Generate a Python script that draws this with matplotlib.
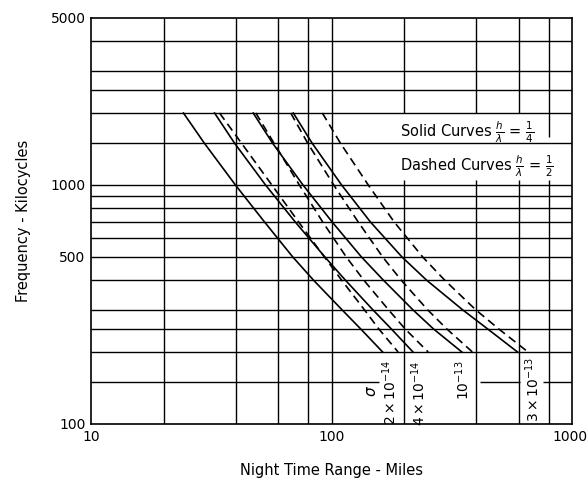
import numpy as np
import matplotlib
matplotlib.use('Agg')
import matplotlib.pyplot as plt
import matplotlib.transforms as mtransforms

### DATA ###
freq = [2000, 1500, 1000, 700, 500, 400, 300, 250, 200]

# solid curves, h/lambda = 1/4 (range in miles at each frequency)
solid_2e14 = [24.2, 29.5, 39.8, 52.6, 68.9, 84, 110.6, 132, 163]
solid_4e14 = [32.6, 39.4, 53.1, 70.6, 93.7, 114, 148.6, 177, 218]
solid_1e13 = [47.2, 56.7, 76, 100.5, 133, 164, 218, 265, 348]
solid_3e13 = [69.3, 82.8, 110, 145, 196, 248, 351, 445, 593]

# dashed curves, h/lambda = 1/2
dashed_2e14 = [34.2, 42.1, 56.4, 72.9, 93.3, 110, 137, 157, 189]
dashed_4e14 = [48.4, 57.5, 73.4, 91.8, 115, 136, 172.6, 202, 252]
dashed_1e13 = [67.6, 79.4, 102, 129, 163, 194.5, 251, 301, 385]
dashed_3e13 = [91.5, 108.6, 142, 182, 239, 295, 398, 495, 656]

x_grid = [20, 40, 60, 80, 100, 200, 400, 600, 800]
y_grid = [150, 200, 250, 300, 400, 500, 600, 700, 800, 900,
          1000, 1500, 2000, 2500, 3000, 4000]

x_ticks = [10, 100, 1000]
y_ticks = [100, 500, 1000, 5000]

sigma_labels = [r'$2\times10^{-14}$', r'$4\times10^{-14}$',
                r'$10^{-13}$', r'$3\times10^{-13}$']
sigma_label_x = [175, 231, 351, 684]
sigma_label_y = [136, 135, 152, 140]

plt.rcParams['font.family'] = ['Liberation Sans Narrow', 'DejaVu Sans']
plt.rcParams['mathtext.fontset'] = 'dejavusans'

fig = plt.figure(figsize=(5.88, 4.8), dpi=100)
ax = fig.add_axes([0.155, 0.1167, 0.818, 0.846])
ax.set_xscale('log')
ax.set_yscale('log')
ax.set_xlim(10, 1000)
ax.set_ylim(100, 5000)

### GRID (hand drawn style, with gaps where the labels sit) ###
gk = dict(color='black', lw=1.0, zorder=1)
for xv in x_grid:
    if xv >= 200:
        ax.vlines(xv, 100, 1050, **gk)
        top_lo = 1580 if xv == 800 else 2000
        ax.vlines(xv, top_lo, 5000, **gk)
    else:
        ax.vlines(xv, 100, 5000, **gk)
for yv in y_grid:
    if yv == 150:
        ax.hlines(yv, 10, 158, **gk)
        ax.hlines(yv, 415, 610, **gk)
        ax.hlines(yv, 760, 1000, **gk)
    else:
        ax.hlines(yv, 10, 1000, **gk)

### CURVES ###
for s in [solid_2e14, solid_4e14, solid_1e13, solid_3e13]:
    ax.plot(s, freq, color='black', lw=1.2, zorder=3)
for d in [dashed_2e14, dashed_4e14, dashed_1e13, dashed_3e13]:
    ax.plot(d, freq, color='black', lw=1.2, dashes=(5, 3), zorder=3)

### TEXT ###
ax.text(193, 1667, r'Solid Curves $\frac{h}{\lambda}$ = $\frac{1}{4}$',
        fontsize=10.5, va='center', ha='left', zorder=4)
ax.text(192, 1202, r'Dashed Curves $\frac{h}{\lambda}$ = $\frac{1}{2}$',
        fontsize=10.5, va='center', ha='left', zorder=4)

ax.text(146, 138, r'$\sigma$', fontsize=11, rotation=90,
        ha='center', va='center', zorder=4)
for lab, lx, ly in zip(sigma_labels, sigma_label_x, sigma_label_y):
    ax.text(lx, ly, lab, fontsize=10, rotation=90,
            ha='center', va='center', zorder=4)

ax.set_xticks(x_ticks)
ax.set_xticklabels([str(v) for v in x_ticks])
ax.set_yticks(y_ticks)
ax.set_yticklabels([str(v) for v in y_ticks])
ax.minorticks_off()
ax.tick_params(length=0, labelsize=10, pad=4)

# last x label sits against the right edge, as in the scan
last = ax.get_xticklabels()[-1]
last.set_horizontalalignment('right')
last.set_transform(last.get_transform() +
                   mtransforms.ScaledTranslation(0.15, 0, fig.dpi_scale_trans))

ax.set_xlabel('Night Time Range - Miles', fontsize=10.5, labelpad=14)
ax.set_ylabel('Frequency - Kilocycles', fontsize=10.5, labelpad=14)

for sp in ax.spines.values():
    sp.set_linewidth(1.2)

fig.savefig('out.png', dpi=100)
